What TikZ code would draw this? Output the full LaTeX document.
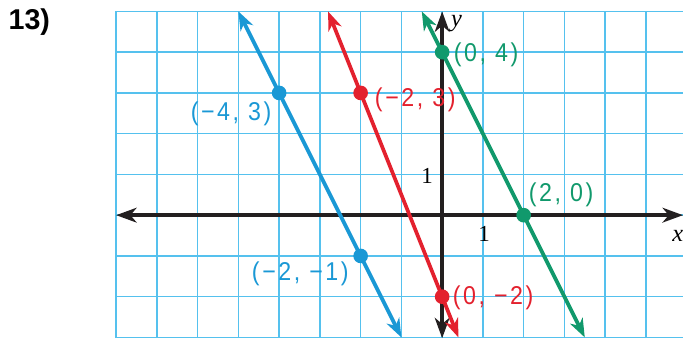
\documentclass[tikz,border=0pt]{standalone}
\usepackage{fontspec}
\setmainfont{Liberation Sans}
\newfontfamily\labelfont{Liberation Sans}[FakeStretch=0.9,LetterSpace=10]
\newfontfamily\tickfont{Liberation Serif}
\usetikzlibrary{arrows.meta}
\definecolor{gridc}{HTML}{55C1EE}
\definecolor{bluec}{HTML}{1A98D5}
\definecolor{redc}{HTML}{E3212E}
\definecolor{greenc}{HTML}{11996C}
\definecolor{axisc}{HTML}{231F20}
\tikzset{
  gridline/.style={draw=gridc, line width=1pt},
  axisedge/.style={{Stealth[length=5mm,width=3.6mm,inset=1.5mm]}-{Stealth[length=5mm,width=3.6mm,inset=1.5mm]},
    draw=axisc, line width=2.8pt},
  lineedge/.style={{Stealth[length=4.6mm,width=3.4mm,inset=1.4mm]}-{Stealth[length=4.6mm,width=3.4mm,inset=1.4mm]},
    line width=2.6pt},
  dotnode/.style={circle, inner sep=0pt, minimum size=3.6mm},
  pointlabel/.style={font=\labelfont\fontsize{18}{20}\selectfont, inner sep=0pt},
  ticklabel/.style={font=\tickfont\fontsize{16}{18}\selectfont, inner sep=0pt},
  axislabel/.style={font=\tickfont\itshape\fontsize{17}{18}\selectfont, inner sep=0pt},
}
\begin{document}
\begin{tikzpicture}
  \useasboundingbox (-10.85,-3.02) rectangle (5.91,5.28);
  \draw[gridline] (-8,-3.02) grid (5.91,5);

  % axes
  \coordinate (xl) at (-8,0);
  \coordinate (xr) at (5.91,0);
  \coordinate (yb) at (0,-3.02);
  \coordinate (yt) at (0,5);
  \draw[axisedge] (xl) -- (xr);
  \draw[axisedge] (yb) -- (yt);
  \node[ticklabel] (xone) at (1.03,-0.45) {1};
  \node[ticklabel] (yone) at (-0.37,0.96) {1};
  \node[axislabel] (xname) at (5.78,-0.52) {x};
  \node[axislabel] (yname) at (0.35,4.7) {y};

  % the three lines
  \coordinate (bt) at (-5,5);
  \coordinate (bb) at (-1,-3);
  \coordinate (rt) at (-2.8,5);
  \coordinate (rb) at (0.4,-3);
  \coordinate (gt) at (-0.5,5);
  \coordinate (gb) at (3.5,-3);
  \draw[lineedge, draw=bluec, fill=bluec] (bt) -- (bb);
  \draw[lineedge, draw=redc, fill=redc] (rt) -- (rb);
  \draw[lineedge, draw=greenc, fill=greenc] (gt) -- (gb);

  % points
  \node[dotnode, fill=bluec] (pa) at (-4,3) {};
  \node[dotnode, fill=bluec] (pb) at (-2,-1) {};
  \node[dotnode, fill=redc] (pc) at (-2,3) {};
  \node[dotnode, fill=redc] (pd) at (0,-2) {};
  \node[dotnode, fill=greenc] (pe) at (0,4) {};
  \node[dotnode, fill=greenc] (pf) at (2,0) {};
  \node[pointlabel, text=bluec] (la) at (-5.18,2.48) {(−4, 3)};
  \node[pointlabel, text=bluec] (lb) at (-3.48,-1.45) {(−2, −1)};
  \node[pointlabel, text=redc] (lc) at (-0.66,2.82) {(−2, 3)};
  \node[pointlabel, text=redc] (ld) at (1.25,-2.04) {(0, −2)};
  \node[pointlabel, text=greenc] (le) at (1.08,3.93) {(0, 4)};
  \node[pointlabel, text=greenc] (lf) at (2.92,0.49) {(2, 0)};

  \node[font=\bfseries\fontsize{20}{22}\selectfont] (num) at (-10.13,4.74) {13)};
\end{tikzpicture}
\end{document}
